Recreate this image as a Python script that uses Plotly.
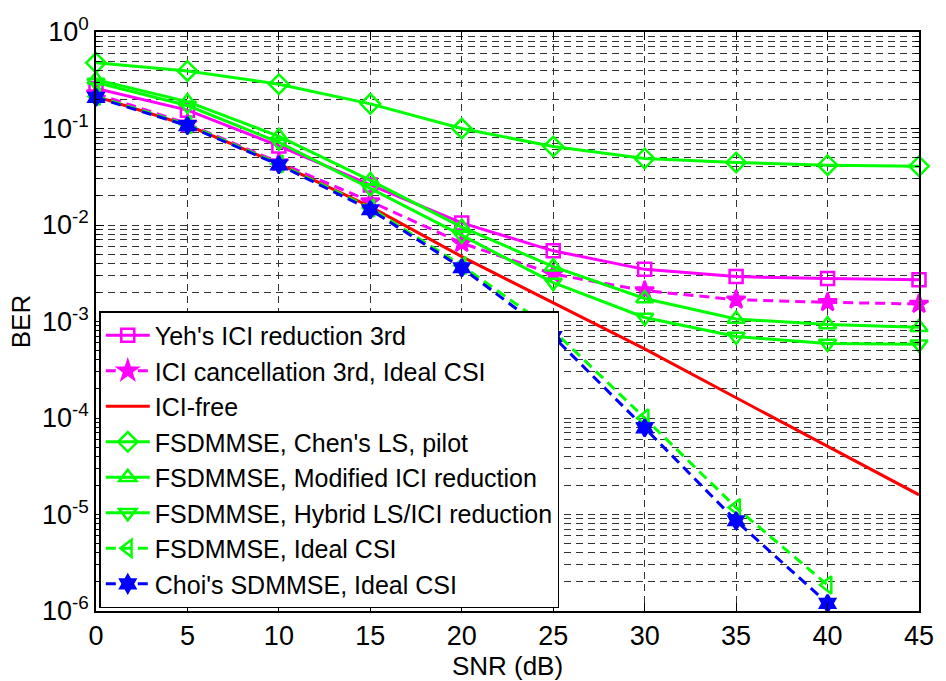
import plotly.graph_objects as go

# SNR points (dB)
snr = [0, 5, 10, 15, 20, 25, 30, 35, 40, 45]
snr_short = [0, 5, 10, 15, 20, 25, 30, 35, 40]

# BER curves
ber_yeh = [0.26, 0.155, 0.066, 0.026, 0.0105, 0.0054, 0.00347, 0.00292, 0.00279, 0.0027]
ber_ici3 = [0.23, 0.112, 0.0445, 0.0175, 0.0065, 0.0031, 0.00209, 0.00168, 0.00158, 0.00152]
ber_icifree = [0.215, 0.108, 0.043, 0.0155, 0.0047, 0.00155, 0.00052, 0.000162, 5.1e-5, 1.6e-5]
ber_chen = [0.48, 0.395, 0.288, 0.18, 0.1, 0.065, 0.0489, 0.0445, 0.0417, 0.0407]
ber_modici = [0.32, 0.19, 0.083, 0.029, 0.0095, 0.0037, 0.00173, 0.00106, 0.00093, 0.00087]
ber_hybrid = [0.30, 0.173, 0.072, 0.024, 0.0078, 0.00253, 0.0011, 0.0007, 0.00059, 0.00058]
ber_fsd_ideal = [0.215, 0.11, 0.043, 0.015, 0.0038, 0.00081, 0.0001, 1.18e-5, 1.86e-6]
ber_choi = [0.21, 0.107, 0.042, 0.0144, 0.0036, 0.0007, 7.9e-5, 8.6e-6, 1.2e-6]

y_tickvals = [1e-6, 1e-5, 1e-4, 1e-3, 1e-2, 1e-1, 1]
y_ticktext = ["10<sup>-6</sup>", "10<sup>-5</sup>", "10<sup>-4</sup>", "10<sup>-3</sup>",
              "10<sup>-2</sup>", "10<sup>-1</sup>", "10<sup>0</sup>"]
x_tickvals = [0, 5, 10, 15, 20, 25, 30, 35, 40, 45]

MAGENTA = "#FF00FF"
RED = "#FF0000"
GREEN = "#00FF00"
BLUE = "#0000FF"
DASH = "10px,6px"

series = [
    dict(name="Yeh's ICI reduction 3rd", x=snr, y=ber_yeh, color=MAGENTA, dash="solid",
         symbol="square-open", size=13),
    dict(name="ICI cancellation 3rd, Ideal CSI", x=snr, y=ber_ici3, color=MAGENTA, dash=DASH,
         symbol="star", size=14),
    dict(name="ICI-free", x=snr, y=ber_icifree, color=RED, dash="solid", symbol=None, size=0),
    dict(name="FSDMMSE, Chen's LS, pilot", x=snr, y=ber_chen, color=GREEN, dash="solid",
         symbol="diamond-open", size=15),
    dict(name="FSDMMSE, Modified ICI reduction", x=snr, y=ber_modici, color=GREEN, dash="solid",
         symbol="triangle-up-open", size=15),
    dict(name="FSDMMSE, Hybrid LS/ICI reduction", x=snr, y=ber_hybrid, color=GREEN, dash="solid",
         symbol="triangle-down-open", size=15),
    dict(name="FSDMMSE, Ideal CSI", x=snr_short, y=ber_fsd_ideal, color=GREEN, dash=DASH,
         symbol="triangle-left-open", size=15),
    dict(name="Choi's SDMMSE, Ideal CSI", x=snr_short, y=ber_choi, color=BLUE, dash=DASH,
         symbol="hexagram", size=13),
]

fig = go.Figure()
for s in series:
    mode = "lines+markers" if s["symbol"] else "lines"
    marker = dict(symbol=s["symbol"], size=s["size"], color=s["color"],
                  line=dict(color=s["color"], width=2.5)) if s["symbol"] else None
    fig.add_trace(go.Scatter(
        x=s["x"], y=s["y"], name=s["name"], mode=mode,
        line=dict(color=s["color"], width=3, dash=s["dash"]),
        marker=marker, cliponaxis=False,
    ))

FONT = "Arial, Liberation Sans, sans-serif"
GRID = "#333333"
GRIDDASH = "7px,5px"

fig.update_layout(
    width=946, height=681,
    margin=dict(l=96, r=19, t=32, b=65),
    paper_bgcolor="white", plot_bgcolor="white",
    font=dict(family=FONT, size=27, color="black"),
    showlegend=True,
    legend=dict(
        x=0.004, y=0.005, xanchor="left", yanchor="bottom",
        bgcolor="white", bordercolor="black", borderwidth=1.5,
        font=dict(family=FONT, size=25, color="black"),
        itemwidth=44, tracegroupgap=0,
    ),
)

fig.update_xaxes(
    range=[0, 45], tickmode="array", tickvals=x_tickvals,
    ticks="inside", ticklen=8, tickwidth=1, tickcolor="black",
    mirror="allticks", showline=True, linecolor="black", linewidth=1.5,
    showgrid=True, gridcolor=GRID, griddash=GRIDDASH, gridwidth=1,
    zeroline=False, tickfont=dict(size=27),
    title=dict(text="SNR (dB)", font=dict(size=26), standoff=0),
)

minor_vals = [k * 10.0 ** e for e in range(-6, 0) for k in range(2, 10)]
fig.update_yaxes(
    type="log", range=[-6, 0], tickmode="array",
    tickvals=y_tickvals, ticktext=y_ticktext,
    ticks="inside", ticklen=8, tickwidth=1, tickcolor="black",
    mirror="allticks", showline=True, linecolor="black", linewidth=1.5,
    showgrid=True, gridcolor=GRID, griddash=GRIDDASH, gridwidth=1,
    zeroline=False, tickfont=dict(size=27),
    minor=dict(tickmode="array", tickvals=minor_vals, ticks="inside", ticklen=4,
               tickcolor="black", showgrid=True, gridcolor=GRID,
               griddash=GRIDDASH, gridwidth=1),
    title=dict(text="BER", font=dict(size=26), standoff=4),
)

fig.write_html("out.html")
